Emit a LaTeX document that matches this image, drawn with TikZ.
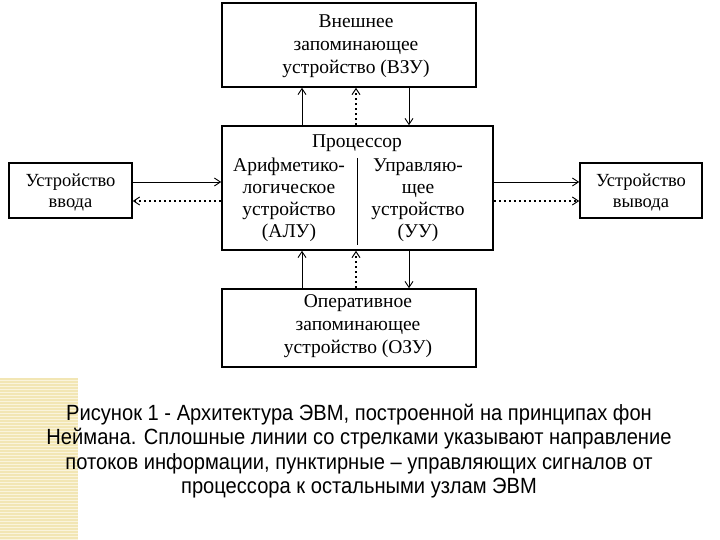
\documentclass[tikz,border=0pt]{standalone}
\usepackage{fontspec}
\setmainfont{Liberation Serif}
\newfontfamily\capfont[FakeStretch=0.915]{Liberation Sans}
\usetikzlibrary{arrows.meta}
\definecolor{stripbg}{RGB}{242,230,180}
\definecolor{stripln}{RGB}{250,244,220}
\begin{document}
\begin{tikzpicture}[x=1pt,y=-1pt,
  box/.style={draw,line width=1.6pt,inner sep=0pt},
  lbl/.style={font=\fontsize{19.5}{23}\selectfont,align=center,inner sep=0pt},
  plbl/.style={font=\fontsize{19.5}{22}\selectfont,align=center,inner sep=0pt},
  flow/.style={line width=0.9pt,-{Straight Barb[length=6pt,width=8pt,line width=0.9pt]}},
  ctrl/.style={line width=1.4pt,dash pattern=on 2.5pt off 2.5pt,-{Straight Barb[length=6pt,width=8pt,line width=1pt]}}]
\useasboundingbox (0,0) rectangle (720,540);
\fill[white] (0,0) rectangle (720,540);
% decorative strip
\fill[stripbg] (0,378) rectangle (78,540);
\foreach \yy in {380,383,...,540} \draw[stripln,line width=1pt] (0,\yy) -- (78,\yy);
% boxes
\node[box,minimum width=254pt,minimum height=84pt] (vzu) at (349,45) {};
\node[box,minimum width=271pt,minimum height=124pt] (proc) at (357.5,188) {};
\node[box,minimum width=254pt,minimum height=78pt] (ozu) at (349,328) {};
\node[box,minimum width=123pt,minimum height=55pt] (in) at (70.5,190.5) {};
\node[box,minimum width=122pt,minimum height=55pt] (out) at (641,190.5) {};
% texts
\node[lbl] (tvzu) at (356,46) {Внешнее\\запоминающее\\устройство (ВЗУ)};
\node[lbl] (tproc) at (357,143) {Процессор};
\node[plbl] (talu) at (289,200) {Арифметико-\\логическое\\устройство\\(АЛУ)};
\node[plbl] (tuu) at (418,200) {Управляю-\\щее\\устройство\\(УУ)};
\node[lbl] (tozu) at (358,326) {Оперативное\\запоминающее\\устройство (ОЗУ)};
\node[lbl,font=\fontsize{18.5}{21}\selectfont] (tin) at (70.5,192) {Устройство\\ввода};
\node[lbl,font=\fontsize{18.5}{21}\selectfont] (tout) at (641,192) {Устройство\\вывода};
% divider
\coordinate (d1) at (357,158);
\coordinate (d2) at (357,245);
\draw[line width=1pt] (d1) -- (d2);
% vertical connectors
\coordinate (a1) at (302,0);
\coordinate (a2) at (356,0);
\coordinate (a3) at (409,0);
\draw[flow] (proc.north -| a1) -- (vzu.south -| a1);
\draw[ctrl] (proc.north -| a2) -- (vzu.south -| a2);
\draw[flow] (vzu.south -| a3) -- (proc.north -| a3);
\draw[flow] (ozu.north -| a1) -- (proc.south -| a1);
\draw[ctrl] (ozu.north -| a2) -- (proc.south -| a2);
\draw[flow] (proc.south -| a3) -- (ozu.north -| a3);
% horizontal connectors
\coordinate (h1) at (0,182);
\coordinate (h2) at (0,201);
\draw[flow] (in.east |- h1) -- (proc.west |- h1);
\draw[ctrl] (proc.west |- h2) -- (in.east |- h2);
\draw[flow] (proc.east |- h1) -- (out.west |- h1);
\draw[ctrl] (proc.east |- h2) -- (out.west |- h2);
% caption
\node[font=\capfont\fontsize{22}{24.3}\selectfont,align=center,inner sep=0pt] (cap) at (359,451)
 {Рисунок 1 - Архитектура ЭВМ, построенной на принципах фон\\
  Неймана. Сплошные линии со стрелками указывают направление\\
  потоков информации, пунктирные – управляющих сигналов от\\
  процессора к остальными узлам ЭВМ};
\end{tikzpicture}
\end{document}
